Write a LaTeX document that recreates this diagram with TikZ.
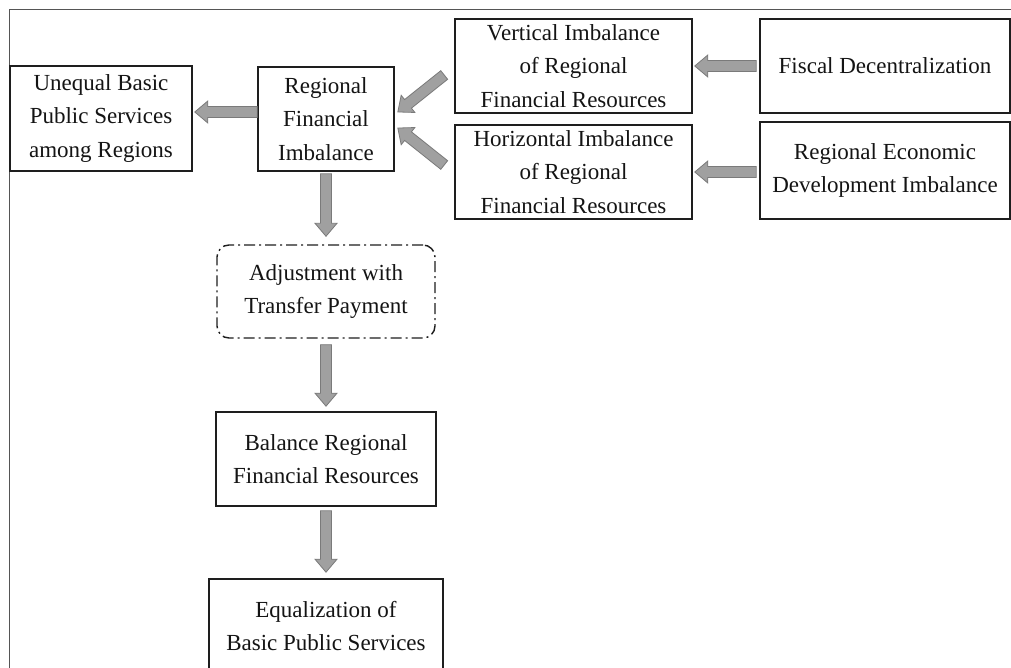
\documentclass[tikz,border=0pt]{standalone}
\usepackage{fontspec}
\setmainfont{Liberation Serif}
\usetikzlibrary{calc}
\definecolor{arrfill}{HTML}{A0A0A0}
\definecolor{arrline}{HTML}{7A7A7A}
\definecolor{boxline}{HTML}{1E1E1E}
\definecolor{frameline}{HTML}{555555}
\newcommand\BArr[2]{%
  \draw[blockarrow] let \p1=(#1), \p2=(#2),
    \n1={atan2(\y2-\y1,\x2-\x1)}, \n2={veclen(\x2-\x1,\y2-\y1)} in
    [shift={(\p1)}, rotate=\n1]
    (0,5.5) -- ({\n2-13},5.5) -- ({\n2-13},11) -- (\n2,0) -- ({\n2-13},-11) -- ({\n2-13},-5.5) -- (0,-5.5) -- cycle;}
\tikzset{
  box/.style={draw=boxline, line width=1.6pt, align=center, inner sep=0pt,
    font=\fontsize{23}{33.5}\selectfont, text=black!92},
  dashbox/.style={box, line width=1.4pt, rounded corners=12pt,
    dash pattern=on 11pt off 4pt on 2pt off 4pt},
  blockarrow/.style={fill=arrfill, draw=arrline, line width=0.8pt, line join=miter},
}
\begin{document}
\begin{tikzpicture}[x=1pt,y=-1pt]
\useasboundingbox (0,0) rectangle (1011,668);
\clip (0,0) rectangle (1011,668);
\fill[white] (0,0) rectangle (1011,668);
\draw[frameline, line width=1pt] (9,10) rectangle (1030,690);

\node[box, minimum width=182, minimum height=105] (ue) at (101,118.5) {Unequal Basic\\Public Services\\among Regions};
\node[box, minimum width=136, minimum height=104] (rfi) at (326,119) {Regional\\Financial\\Imbalance};
\node[box, minimum width=237, minimum height=94] (vert) at (573.5,66) {Vertical Imbalance\\of Regional\\Financial Resources};
\node[box, minimum width=237, minimum height=94] (horiz) at (573.5,172) {Horizontal Imbalance\\of Regional\\Financial Resources};
\node[box, minimum width=250, minimum height=94] (fiscal) at (885,66) {Fiscal Decentralization};
\node[box, minimum width=250, minimum height=97] (regecon) at (885,170.5) {Regional Economic\\Development Imbalance};
\node[dashbox, minimum width=218, minimum height=93] (adj) at (326,291.5) {Adjustment with\\Transfer Payment};
\node[box, minimum width=220, minimum height=94] (bal) at (326,459) {Balance Regional\\Financial Resources};
\node[box, minimum width=234, minimum height=94] (eq) at (326,626) {Equalization of\\Basic Public Services};

\BArr{$(rfi.west)+(0,-7)$}{$(ue.east)+(2,-6.5)$}
\BArr{$(fiscal.west)+(-3,0)$}{$(vert.east)+(2,0)$}
\BArr{$(regecon.west)+(-3,1.5)$}{$(horiz.east)+(2,0)$}
\BArr{$(vert.west)+(-10,9)$}{$(rfi.east)+(3,-7)$}
\BArr{$(horiz.west)+(-10,-7)$}{$(rfi.east)+(3,9)$}
\BArr{$(rfi.south)+(0,2)$}{$(adj.north)+(0,-8)$}
\BArr{$(adj.south)+(0,6)$}{$(bal.north)+(0,-5)$}
\BArr{$(bal.south)+(0,4)$}{$(eq.north)+(0,-6)$}
\end{tikzpicture}
\end{document}
